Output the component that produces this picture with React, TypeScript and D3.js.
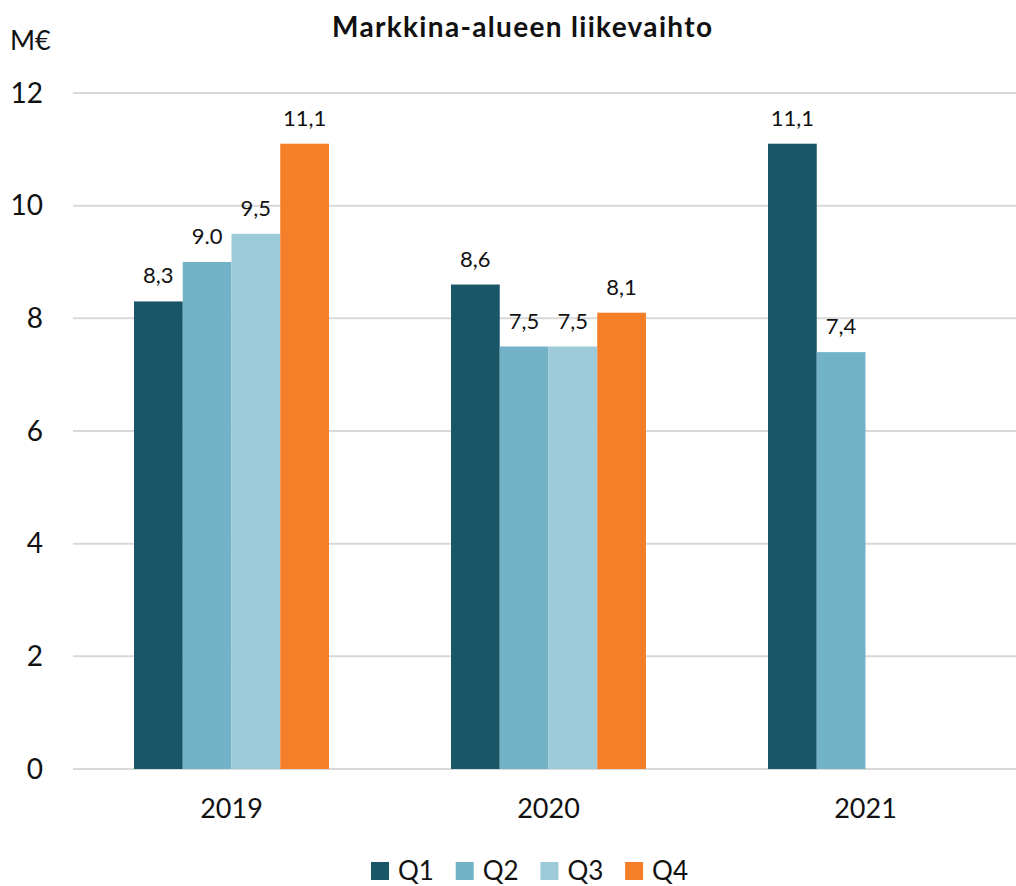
import React from "react";
import * as d3 from "d3";

// data
const years = ["2019", "2020", "2021"];
const quarters = ["Q1", "Q2", "Q3", "Q4"];
const q1 = [8.3, 8.6, 11.1];
const q2 = [9.0, 7.5, 7.4];
const q3 = [9.5, 7.5, null];
const q4 = [11.1, 8.1, null];
const labelText = [
  ["8,3", "9.0", "9,5", "11,1"],
  ["8,6", "7,5", "7,5", "8,1"],
  ["11,1", "7,4", "", ""],
];
const yTicks = [0, 2, 4, 6, 8, 10, 12];
const colors = ["#195668", "#73b3c8", "#9ecbda", "#f57e28"];

const width = 1016;
const height = 886;
const font = "Lato, 'Noto Sans', sans-serif";

const series = [q1, q2, q3, q4];

const App = () => {
  const x = d3.scaleBand().domain(years).range([73, 1024]).paddingInner(0).paddingOuter(0);
  const groupWidth = 195;
  const xq = d3
    .scaleBand()
    .domain(quarters)
    .range([(x.bandwidth() - groupWidth) / 2, (x.bandwidth() + groupWidth) / 2]);
  const y = d3.scaleLinear().domain([0, 12]).range([769, 93]);

  return (
    <svg
      width={width}
      height={height}
      style={{ position: "absolute", left: 0, top: 0, background: "#fff" }}
      fontFamily={font}
    >
      <text
        x={522}
        y={37}
        textAnchor="middle"
        fontSize={28}
        fontWeight="bold"
        fill="#111"
        textLength={380}
        lengthAdjust="spacing"
      >
        Markkina-alueen liikevaihto
      </text>
      <text x={10} y={50} fontSize={27} fill="#111">
        M€
      </text>

      {/* gridlines + y ticks */}
      {yTicks.map((t) => (
        <g key={t}>
          <line x1={73} x2={width} y1={y(t)} y2={y(t)} stroke="#d9d9d9" strokeWidth={2} />
          <text x={43} y={y(t)} dy="0.35em" textAnchor="end" fontSize={28} fill="#111">
            {t}
          </text>
        </g>
      ))}

      {/* bars */}
      {years.map((yr, i) => (
        <g key={yr} transform={`translate(${x(yr)},0)`}>
          {series.map((s, j) => {
            const v = s[i];
            if (v == null) return null;
            const bx = xq(quarters[j])!;
            return (
              <g key={j}>
                <rect x={bx} y={y(v)} width={xq.bandwidth()} height={y(0) - y(v)} fill={colors[j]} />
                <text
                  x={bx + xq.bandwidth() / 2}
                  y={y(v) - 18}
                  textAnchor="middle"
                  fontSize={22}
                  fill="#111"
                >
                  {labelText[i][j]}
                </text>
              </g>
            );
          })}
          <text
            x={x.bandwidth() / 2}
            y={818}
            textAnchor="middle"
            fontSize={27}
            fill="#111"
          >
            {yr}
          </text>
        </g>
      ))}

      {/* legend */}
      {quarters.map((q, j) => (
        <g key={q} transform={`translate(${371 + j * 84.7},862)`}>
          <rect x={0} y={0} width={18} height={18} fill={colors[j]} />
          <text x={27} y={18} fontSize={26} fill="#111">
            {q}
          </text>
        </g>
      ))}
    </svg>
  );
};

export default App;
